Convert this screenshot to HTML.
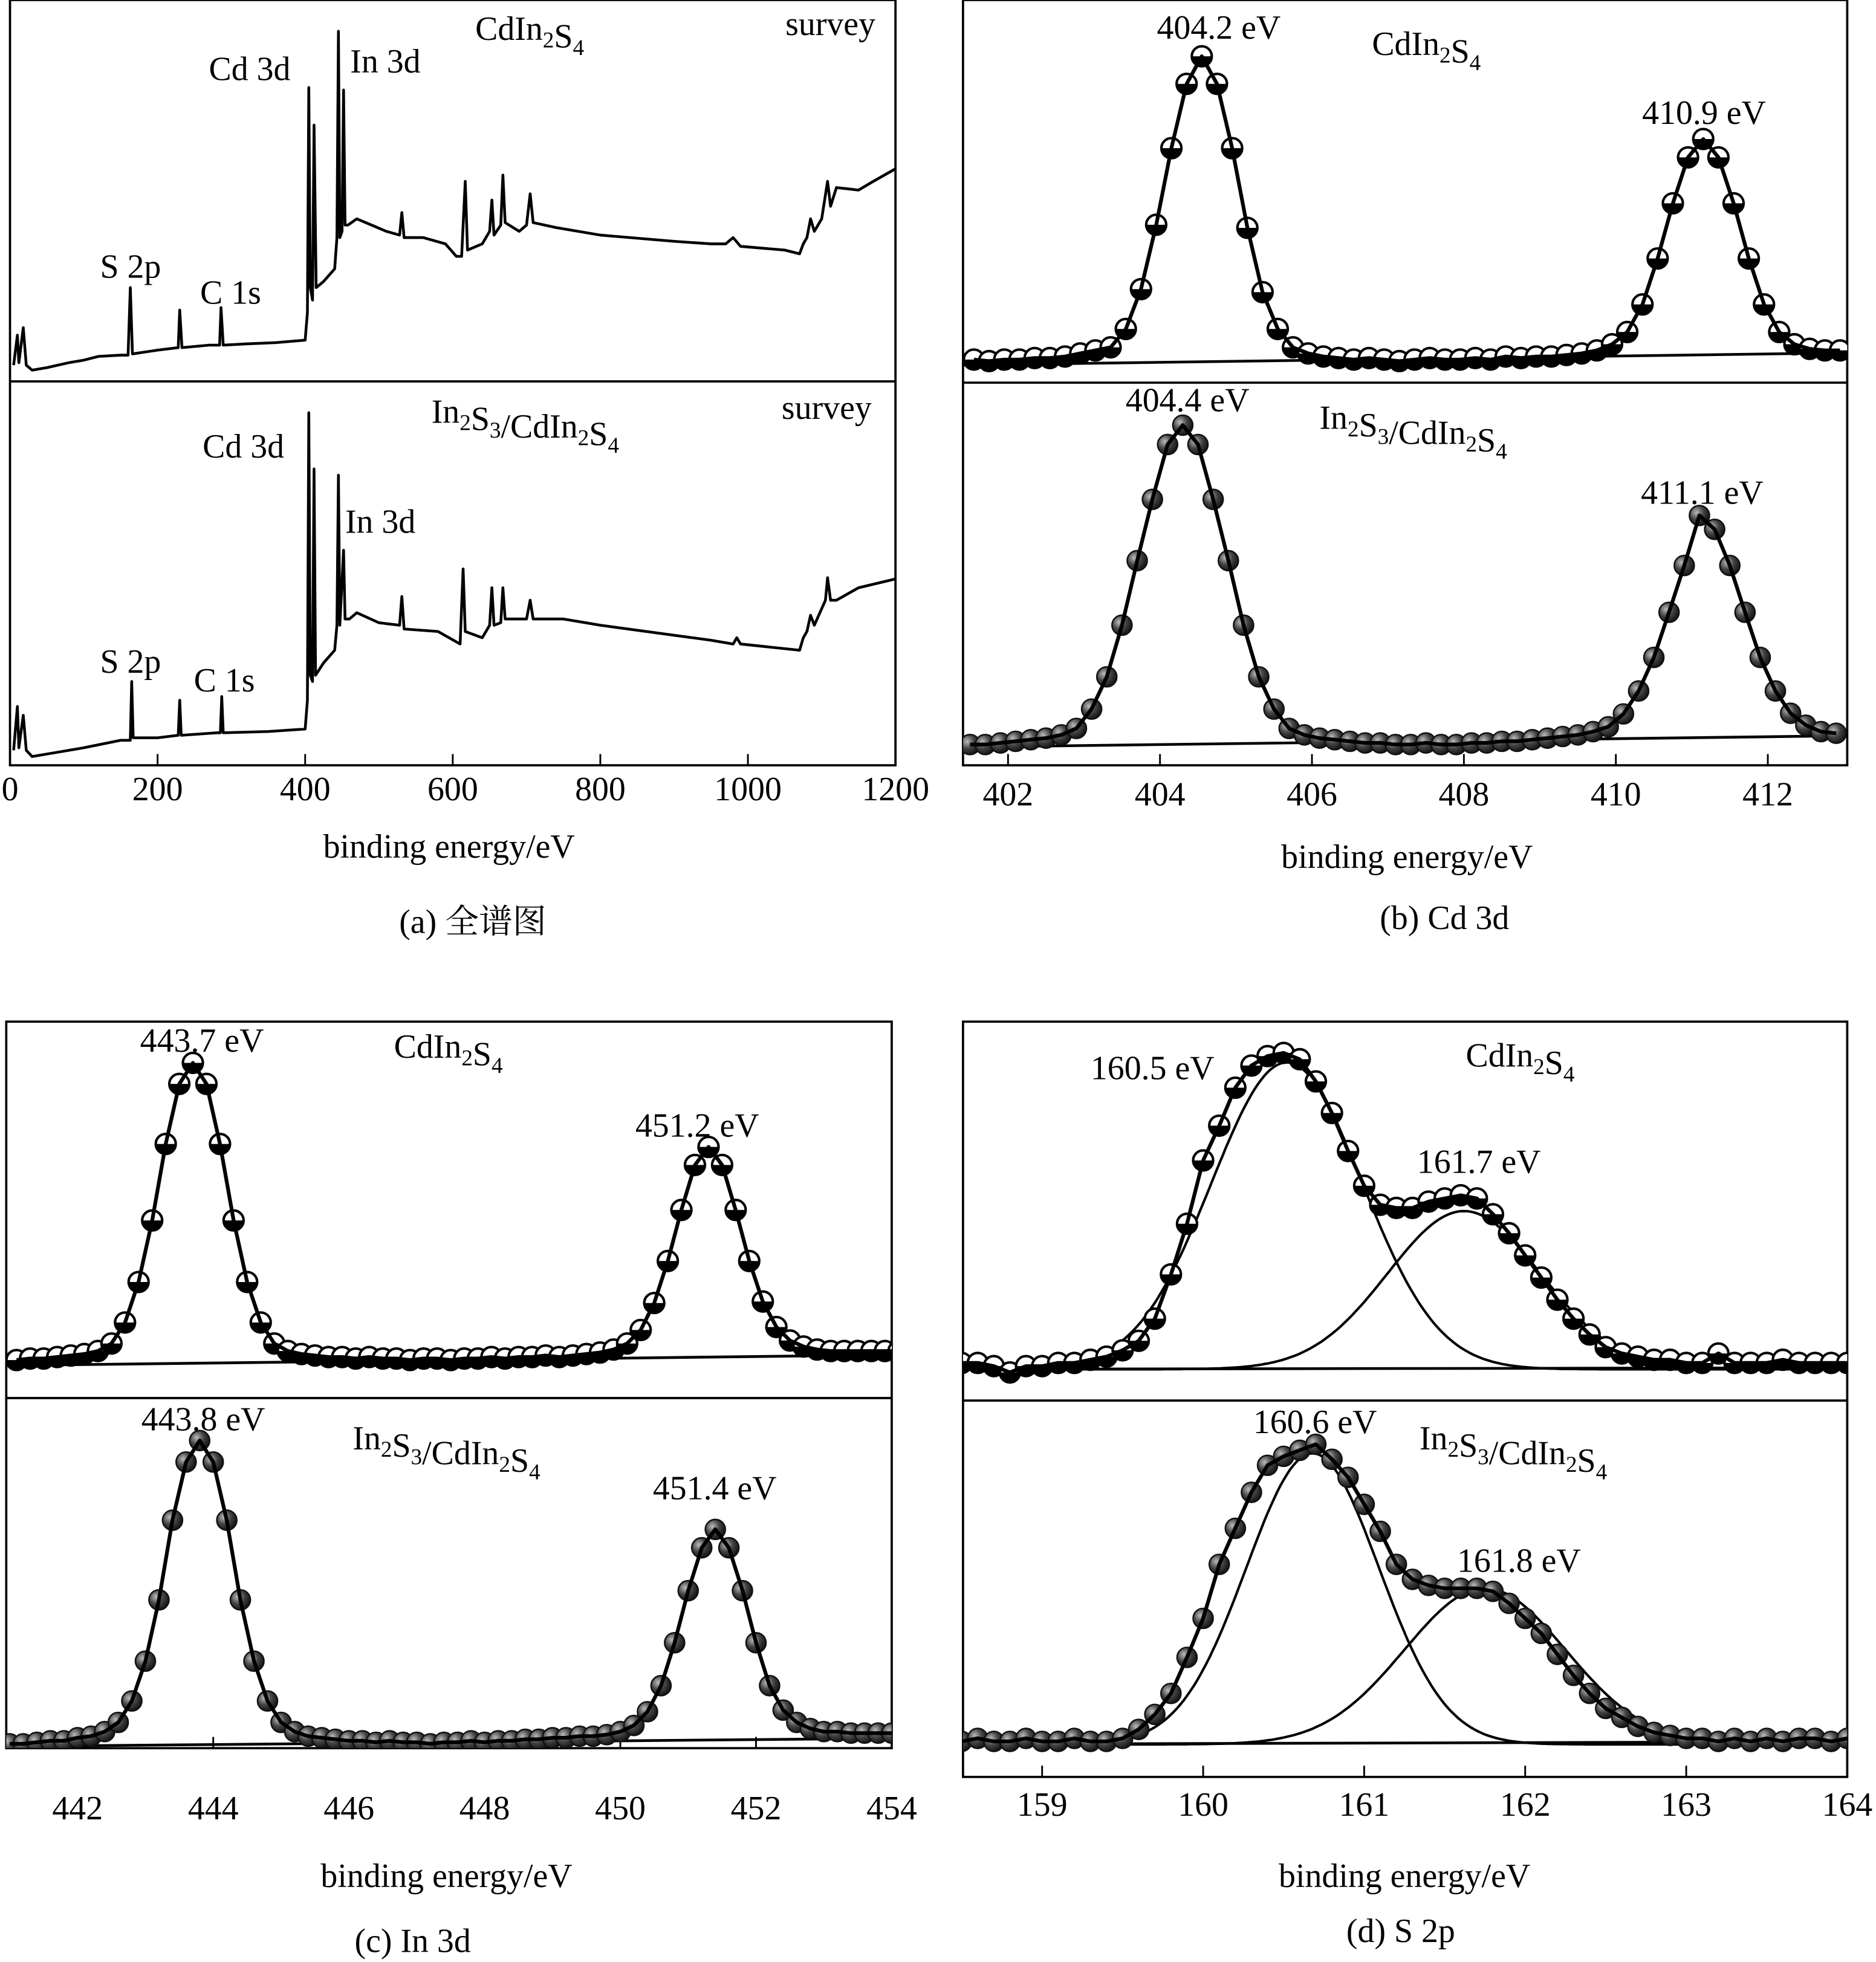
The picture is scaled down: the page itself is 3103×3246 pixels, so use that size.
<!DOCTYPE html>
<html><head><meta charset="utf-8"><style>
html,body{margin:0;padding:0;background:#fff;}
svg{display:block;}
text{font-family:"Liberation Serif","Noto Serif CJK SC",serif;fill:#000;}
</style></head><body>
<svg id="fig" width="3103" height="3246" viewBox="0 0 1500 1569" preserveAspectRatio="none" xmlns="http://www.w3.org/2000/svg">
<defs>
<radialGradient id="ball" cx="0.35" cy="0.35" r="0.7"><stop offset="0" stop-color="#bbb"/><stop offset="0.5" stop-color="#444"/><stop offset="1" stop-color="#111"/></radialGradient>
</defs>
</svg>
<script>
// ---- survey data (binding energy eV, intensity a.u.) ----
const surveyTopE=[5,10,12,18,22,30,50,80,100,120,150,160,163,166,200,228,230,233,270,284,286,289,320,360,400,403,405,407,410,412,415,425,440,443,445,447,450,452,454,458,470,490,510,528,531,534,560,590,605,612,617,620,640,650,653,656,665,668,671,690,700,705,709,740,800,900,950,970,980,990,1050,1070,1075,1080,1085,1090,1100,1108,1112,1120,1150,1170,1200];
const surveyTopI=[13,37,15,43,13,9,11,15,17,20,21,21,75,22,25,27,57,27,29,29,59,29,30,31,33,55,235,75,65,205,75,80,90,115,280,115,120,233,125,125,130,125,120,117,135,115,115,110,100,100,160,105,110,120,145,117,125,165,127,120,125,150,127,123,117,112,110,110,115,108,105,102,110,115,130,120,130,160,140,155,153,160,170];
const surveyBotE=[5,10,12,18,22,30,60,100,150,163,165,167,200,228,230,232,280,285,287,289,350,400,403,405,407,410,412,414,425,440,443,445,447,452,454,460,470,500,528,531,534,580,610,614,617,640,650,653,656,665,668,671,700,705,709,750,800,900,950,980,985,990,1070,1075,1080,1085,1090,1105,1108,1112,1120,1150,1200];
const surveyBotI=[12,47,14,40,12,7,10,14,20,20,67,22,22,24,52,24,26,26,55,26,27,29,52,282,72,67,237,72,82,92,112,232,112,172,117,117,122,114,112,135,109,107,97,157,107,102,112,142,112,114,142,117,117,132,117,117,112,104,100,97,102,97,92,102,107,120,112,132,150,132,132,142,149];
// ---- Cd 3d ----
const cdTopStart=401.55, cdTopStep=0.2;
const cdTopI=[1,0.5,1,1,1.5,1.5,2,3,4,5,11,24,45,70,91,100,91,70,44,23,11,5,3,2,1.5,1,1.5,1,0.5,1,1.5,1,1,1.5,1,2,1.5,2,2,2.5,3,4,6,10,19,34,52,67,73,67,52,34,19,10,6,4.5,4,4];
const cdBotStart=401.5, cdBotStep=0.2;
const cdBotI=[1,1,1.5,2,2.5,3,4,6,12,22,38,58,77,94,100,94,77,58,38,22,12,6,4,3,2.5,2,1.5,1.5,1,1,1.5,1,1,1.5,1.5,2,2,2.5,3,3.5,4,5,6.5,10.5,17.6,28,42,56.5,72,67.7,56.5,42,28,17.6,10.7,7,5,4.5];
// ---- In 3d ----
const inTopStart=441.1, inTopStep=0.2;
const inTopI=[1,1.5,1.5,2,2.5,3,4,6.5,13.5,27,47.5,73,93,100,93,73,47.5,27,13.5,6.5,4,3,2.5,2,2,1.5,2,1.5,1.5,1,1.5,1.5,1,1.5,1.5,2,1.5,2,2,2.5,2,2.5,3,3.5,4.5,6.5,11,20,34,51,66,72,66,51,34,20.5,12,7.5,5.5,4.5,4,4,4,4,4,4];
const inBotStart=441.0, inBotStep=0.2;
const inBotI=[1,1,1.5,2,2,3,3.5,5,8,15,28,48,74,93,100,93,74,48,28,15,8,5,3.5,3,2.5,2,2,1.5,2,1.5,1.5,1,1.5,1.5,2,1.5,2,2,2.5,2.5,3,3,3.5,3.5,4,5,7,11.5,20,34,51,65,71,65,51,34,20,12,8,6,5,5,4.5,4.5,4.5,4.5];
// ---- S 2p ----
const sTopStart=158.5, sTopStep=0.1;
const sTopI=[2,2,1,-1,1,1,2,2,3,4,6,9,16,30,46,66,77,89,96,99,100,98,91,81,69,58,52,51,51,53,54,55,54,49,43,36,29,22,16,11,7,5,4,3,3,2,2,5,2,2,2,3,2,2,2,2,2];
const sBotStart=158.5, sBotStep=0.1;
const sBotI=[1,2,1,1,2,1,1,2,1,1,2,5,10,17,29,42,60,72,84,93,96,98,100,95,89,80,71,60,55,53,52,52,52,51,47,42,37,30,23,17,12,9,6,4,3,2,2,1,2,1,2,1,2,2,1,2,2];
// fitted components [center, height, 2*sigma^2]
const sTopComp1=[160.52,97,0.44], sTopComp2=[161.62,50,0.45];
const sBotComp1=[160.68,97,0.34], sBotComp2=[161.75,52,0.5];
// backgrounds [left, right] (%)
const cdTopBg=[-1,3.5], cdBotBg=[0,4], inTopBg=[-1,3], inBotBg=[0,3], sTopBg=[0,0.5], sBotBg=[0,1];
// tick labels
const ticksA=[0,200,400,600,800,1000,1200];
const ticksB=[402,404,406,408,410,412];
const ticksC=[442,444,446,448,450,452,454];
const ticksD=[159,160,161,162,163,164];

const NS='http://www.w3.org/2000/svg';
const svg=document.getElementById('fig');
const FS=27;
function el(tag,attrs,parent){const e=document.createElementNS(NS,tag);for(const k in attrs)e.setAttribute(k,attrs[k]);(parent||svg).appendChild(e);return e;}
function txt(x,y,s,size,anchor,name,parent){const t=el('text',{x:x,y:y,'font-size':size,'text-anchor':anchor||'start'},parent);t.innerHTML=s;


return t;}

const P={
 a:{x0:8,x1:716,xs:e=>8+e*708/1200,top:[0,305],bot:[305,612],ticks:ticksA,tickY:640},
 b:{x0:770,x1:1477,xs:e=>806+(e-402)*60.75,top:[0,306],bot:[306,612],ticks:ticksB,tickY:644},
 c:{x0:5,x1:713,xs:e=>62+(e-442)*54.25,top:[817,1118],bot:[1118,1398],ticks:ticksC,tickY:1455},
 d:{x0:770,x1:1477,xs:e=>962+(e-160)*128.75,top:[817,1120],bot:[1120,1421],ticks:ticksD,tickY:1452}
};
function frame(p,key){
 const g=el('g',{});
 
 
 const cp=el('clipPath',{id:'clip-'+key},svg);
 el('rect',{x:p.x0,y:p.top[0],width:p.x1-p.x0,height:p.bot[1]-p.top[0]},cp);
 const r=el('rect',{x:p.x0,y:p.top[0],width:p.x1-p.x0,height:p.bot[1]-p.top[0],fill:'none',stroke:'#000','stroke-width':1.8},g);
 
 
 const d=el('line',{x1:p.x0,x2:p.x1,y1:p.top[1],y2:p.top[1],stroke:'#000','stroke-width':1.8},g);
 
 
 p.ticks.forEach(t=>{const x=p.xs(t);
  const l=el('line',{x1:x,x2:x,y1:p.bot[1],y2:p.bot[1]-9,stroke:'#000','stroke-width':1.4},g);
  
  
  txt(x,p.tickY,String(t),FS,'middle','x-tick-label',g);});
 return g;
}
function drawSurvey(p,key,E,I,base){
 const g=el('g',{'clip-path':'url(#clip-'+key+')'});
 const pts=E.map((e,i)=>p.xs(e).toFixed(1)+','+(base-I[i]).toFixed(1)).join(' ');
 const pl=el('polyline',{points:pts,fill:'none',stroke:'#000','stroke-width':2.2,'stroke-linejoin':'round'},g);
 
 
}
function drawXPS(p,key,start,step,I,base,range,bg,filled,comps){
 const g=el('g',{'clip-path':'url(#clip-'+key+')'});
 const ys=v=>base-v*range/100;
 const e0=start-step*4,e1=start+step*(I.length+4);
 const b=el('line',{x1:p.xs(e0),x2:p.xs(e1),y1:ys(bg[0]),y2:ys(bg[1]),stroke:'#000','stroke-width':2.2},g);
 
 
 if(comps){comps.forEach((c,ci)=>{let s='';for(let e=start;e<=start+step*I.length;e+=0.02){const v=c[1]*Math.exp(-Math.pow(e-c[0],2)/c[2])+bg[0];s+=p.xs(e).toFixed(1)+','+ys(v).toFixed(1)+' ';}
  const cl=el('polyline',{points:s,fill:'none',stroke:'#000','stroke-width':2},g);
  
  });}
 I.forEach((v,i)=>{const x=p.xs(start+i*step),y=ys(v),r=8;
  let m;
  if(filled){m=el('circle',{cx:x,cy:y,r:r,fill:'url(#ball)',stroke:'#111','stroke-width':1.2},g);}
  else{m=el('g',{},g);
   el('circle',{cx:x,cy:y,r:r,fill:'#fff',stroke:'#000','stroke-width':2},m);
   el('path',{d:`M${x-r},${y} A${r},${r} 0 0 0 ${x+r},${y} Z`,fill:'#000'},m);}
  
  
 });
 const pts=I.map((v,i)=>p.xs(start+i*step).toFixed(1)+','+ys(v).toFixed(1)).join(' ');
 const pl=el('polyline',{points:pts,fill:'none',stroke:'#000','stroke-width':3,'stroke-linejoin':'round'},g);
 
 
}
const sub=(a,b)=>a+'<tspan font-size="18" dy="6">'+b+'</tspan><tspan dy="-6"></tspan>';
const CIS='CdIn'+sub('','2')+'S'+sub('','4');
const INS='In'+sub('','2')+'S'+sub('','3')+'/'+CIS;

// panel a
let g=frame(P.a,'a');
drawSurvey(P.a,'a',surveyTopE,surveyTopI,305);
drawSurvey(P.a,'a',surveyBotE,surveyBotI,612);
txt(380,32,CIS,FS,'start','sample-label-top',g);txt(628,28,'survey',FS,'start','survey-label-top',g);
txt(167,64,'Cd 3d',FS,'start','peak-label',g);txt(280,58,'In 3d',FS,'start','peak-label',g);
txt(80,222,'S 2p',FS,'start','peak-label',g);txt(160,243,'C 1s',FS,'start','peak-label',g);
txt(345,338,INS,FS,'start','sample-label-bottom',g);txt(625,335,'survey',FS,'start','survey-label-bottom',g);
txt(162,366,'Cd 3d',FS,'start','peak-label',g);txt(276,426,'In 3d',FS,'start','peak-label',g);
txt(80,538,'S 2p',FS,'start','peak-label',g);txt(155,553,'C 1s',FS,'start','peak-label',g);
txt(359,686,'binding energy/eV',FS,'middle','x-axis-title',g);
txt(378,746,'(a) 全谱图',FS,'middle','caption-a',g);
// panel b
g=frame(P.b,'b');
drawXPS(P.b,'b',cdTopStart,cdTopStep,cdTopI,290,245,cdTopBg,false);
drawXPS(P.b,'b',cdBotStart,cdBotStep,cdBotI,598,258,cdBotBg,true);
txt(925,31,'404.2 eV',FS,'start','peak-position',g);txt(1097,44,CIS,FS,'start','sample-label-top',g);
txt(1313,99,'410.9 eV',FS,'start','peak-position',g);
txt(900,329,'404.4  eV',FS,'start','peak-position',g);txt(1055,343,INS,FS,'start','sample-label-bottom',g);
txt(1312,403,'411.1  eV',FS,'start','peak-position',g);
txt(1125,694,'binding energy/eV',FS,'middle','x-axis-title',g);
txt(1155,743,'(b) Cd 3d',FS,'middle','caption-b',g);
// panel c
g=frame(P.c,'c');
drawXPS(P.c,'c',inTopStart,inTopStep,inTopI,1090,240,inTopBg,false);
drawXPS(P.c,'c',inBotStart,inBotStep,inBotI,1397,245,inBotBg,true);
txt(112,841,'443.7  eV',FS,'start','peak-position',g);txt(315,846,CIS,FS,'start','sample-label-top',g);
txt(508,909,'451.2  eV',FS,'start','peak-position',g);
txt(113,1144,'443.8  eV',FS,'start','peak-position',g);txt(282,1159,INS,FS,'start','sample-label-bottom',g);
txt(522,1199,'451.4 eV',FS,'start','peak-position',g);
txt(357,1509,'binding energy/eV',FS,'middle','x-axis-title',g);
txt(330,1561,'(c) In 3d',FS,'middle','caption-c',g);
// panel d
g=frame(P.d,'d');
drawXPS(P.d,'d',sTopStart,sTopStep,sTopI,1095,253,sTopBg,false,[sTopComp1,sTopComp2]);
drawXPS(P.d,'d',sBotStart,sBotStep,sBotI,1395,240,sBotBg,true,[sBotComp1,sBotComp2]);
txt(872,863,'160.5  eV',FS,'start','peak-position',g);txt(1172,853,CIS,FS,'start','sample-label-top',g);
txt(1133,938,'161.7  eV',FS,'start','peak-position',g);
txt(1002,1146,'160.6  eV',FS,'start','peak-position',g);txt(1135,1159,INS,FS,'start','sample-label-bottom',g);
txt(1165,1257,'161.8  eV',FS,'start','peak-position',g);
txt(1123,1509,'binding energy/eV',FS,'middle','x-axis-title',g);
txt(1120,1553,'(d) S 2p',FS,'middle','caption-d',g);
</script>
</body></html>
